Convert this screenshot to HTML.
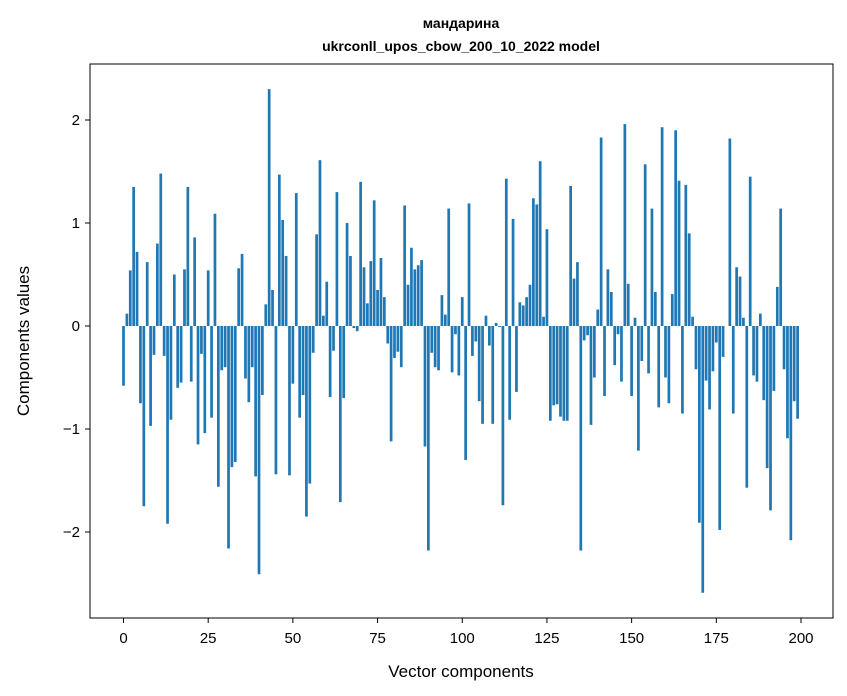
<!DOCTYPE html>
<html><head><meta charset="utf-8"><style>
html,body{margin:0;padding:0;background:#fff;}
svg{display:block;font-family:"Liberation Sans","DejaVu Sans",sans-serif;}
</style></head><body>
<svg id="chart" width="847" height="696">
<text x="461" y="28" text-anchor="middle" font-size="14" font-weight="bold">мандарина</text>
<text x="461" y="51" text-anchor="middle" font-size="14" font-weight="bold">ukrconll_upos_cbow_200_10_2022 model</text>
<g id="bars"></g>
<rect x="90" y="64" width="743" height="554" fill="none" stroke="#000" stroke-width="1"/>
<g id="xt"></g>
<g id="yt"></g>
<text x="461" y="677" text-anchor="middle" font-size="17">Vector components</text>
<text transform="translate(29,341) rotate(-90)" text-anchor="middle" font-size="17">Components values</text>
</svg>
<script>
const values=[-0.58,0.12,0.54,1.35,0.72,-0.75,-1.75,0.62,-0.97,-0.28,0.80,1.48,-0.29,-1.92,-0.91,0.50,-0.60,-0.55,0.55,1.35,
-0.54,0.86,-1.15,-0.27,-1.04,0.54,-0.89,1.09,-1.56,-0.43,-0.40,-2.16,-1.37,-1.32,0.56,0.70,-0.51,-0.74,-0.40,-1.46,
-2.41,-0.67,0.21,2.30,0.35,-1.44,1.47,1.03,0.68,-1.45,-0.56,1.29,-0.89,-0.67,-1.85,-1.53,-0.26,0.89,1.61,0.10,
0.43,-0.69,-0.24,1.30,-1.71,-0.70,1.00,0.68,-0.02,-0.05,1.40,0.57,0.22,0.63,1.22,0.35,0.66,0.28,-0.17,-1.12,
-0.31,-0.25,-0.40,1.17,0.40,0.76,0.55,0.59,0.64,-1.17,-2.18,-0.26,-0.40,-0.43,0.30,0.11,1.14,-0.45,-0.08,-0.48,
0.28,-1.30,1.19,-0.29,-0.15,-0.73,-0.95,0.10,-0.19,-0.95,0.03,-0.01,-1.74,1.43,-0.91,1.04,-0.64,0.23,0.20,0.28,
0.40,1.24,1.18,1.60,0.09,0.94,-0.92,-0.77,-0.76,-0.88,-0.92,-0.92,1.36,0.46,0.62,-2.18,-0.14,-0.09,-0.96,-0.50,
0.16,1.83,-0.68,0.55,0.33,-0.38,-0.08,-0.54,1.96,0.41,-0.68,0.08,-1.21,-0.34,1.57,-0.46,1.14,0.33,-0.79,1.93,
-0.50,-0.75,0.31,1.90,1.41,-0.85,1.37,0.90,0.09,-0.42,-1.91,-2.59,-0.53,-0.81,-0.44,-0.16,-1.98,-0.30,0.00,1.82,
-0.85,0.57,0.48,0.08,-1.57,1.45,-0.48,-0.54,0.12,-0.72,-1.38,-1.79,-0.63,0.38,1.14,-0.42,-1.09,-2.08,-0.73,-0.90];
const xTicks=[0,25,50,75,100,125,150,175,200];
const yTicks=[-2,-1,0,1,2];
const yTickLabels=["\u22122","\u22121","0","1","2"];
const NS="http://www.w3.org/2000/svg";
function xs(v){return 123.5+v*(801-123.5)/200;}
function ys(v){return 326-v*103;}
const bw=0.8*(801-123.5)/200;
const gb=document.getElementById('bars');
values.forEach((v,i)=>{
  const r=document.createElementNS(NS,'rect');
  const y0=ys(Math.max(v,0)),y1=ys(Math.min(v,0));
  r.setAttribute('x',xs(i)-bw/2);r.setAttribute('y',y0);
  r.setAttribute('width',bw);r.setAttribute('height',Math.max(y1-y0,0));
  r.setAttribute('fill','#1f77b4');
  
  
  gb.appendChild(r);
});
const gx=document.getElementById('xt');
xTicks.forEach(t=>{
  const l=document.createElementNS(NS,'line');
  l.setAttribute('x1',xs(t));l.setAttribute('x2',xs(t));l.setAttribute('y1',618);l.setAttribute('y2',623);l.setAttribute('stroke','#000');
  
  
  gx.appendChild(l);
  const tx=document.createElementNS(NS,'text');
  tx.setAttribute('x',xs(t));tx.setAttribute('y',643);tx.setAttribute('text-anchor','middle');tx.setAttribute('font-size','15');
  tx.textContent=t;
  
  
  gx.appendChild(tx);
});
const gy=document.getElementById('yt');
yTicks.forEach((t,i)=>{
  const l=document.createElementNS(NS,'line');
  l.setAttribute('x1',85);l.setAttribute('x2',90);l.setAttribute('y1',ys(t));l.setAttribute('y2',ys(t));l.setAttribute('stroke','#000');
  
  
  gy.appendChild(l);
  const tx=document.createElementNS(NS,'text');
  tx.setAttribute('x',80);tx.setAttribute('y',ys(t)+5);tx.setAttribute('text-anchor','end');tx.setAttribute('font-size','15');
  tx.textContent=yTickLabels[i];
  
  
  gy.appendChild(tx);
});
</script>
</body></html>
